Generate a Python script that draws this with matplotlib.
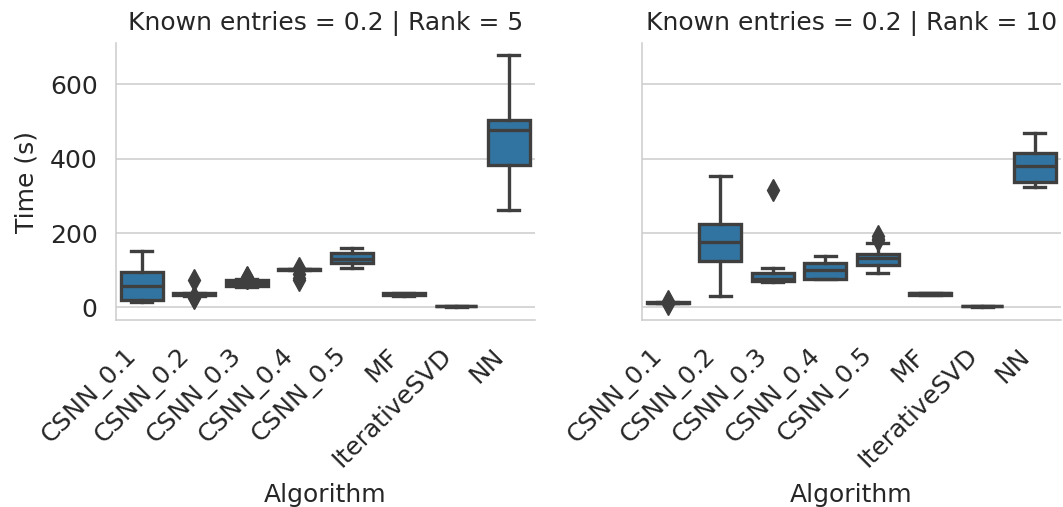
import matplotlib
matplotlib.use("Agg")
import matplotlib.pyplot as plt

algorithms = ["CSNN_0.1", "CSNN_0.2", "CSNN_0.3", "CSNN_0.4", "CSNN_0.5",
              "MF", "IterativeSVD", "NN"]

# Known entries = 0.2 | Rank = 5
r5_whislo = [15, 31, 56, 100, 107, 31, 2, 261]
r5_q1 = [20, 34, 58, 101, 118, 32, 2.5, 382]
r5_med = [58, 36, 65, 102, 129, 36, 3, 478]
r5_q3 = [94, 38, 73, 103, 145, 38, 3.5, 505]
r5_whishi = [151, 40, 76, 104, 159, 39, 4, 678]
r5_fliers = [[], [74, 28, 26], [83, 80, 78], [106, 90, 80, 74], [], [], [], []]

# Known entries = 0.2 | Rank = 10
r10_whislo = [12, 31, 67, 75, 93, 32, 2, 324]
r10_q1 = [12.5, 125, 70, 77, 114, 33, 2.5, 336]
r10_med = [13, 177, 76, 100, 133, 38, 3, 380]
r10_q3 = [14, 224, 93, 118, 143, 39, 3.5, 415]
r10_whishi = [15, 354, 106, 138, 172, 40, 4, 468]
r10_fliers = [[16, 10], [], [317], [], [193, 185, 180], [], [], []]

panels = [
    ("Known entries = 0.2 | Rank = 5", r5_whislo, r5_q1, r5_med, r5_q3, r5_whishi, r5_fliers),
    ("Known entries = 0.2 | Rank = 10", r10_whislo, r10_q1, r10_med, r10_q3, r10_whishi, r10_fliers),
]

box_color = "#3274a1"
line_color = "#3f3f3f"
grid_color = "#cccccc"
text_color = "#262626"
fs = 18

fig = plt.figure(figsize=(10.63, 5.07), dpi=100)
axes = [fig.add_axes([0.1088, 0.3688, 0.3945, 0.5464]),
        fig.add_axes([0.6037, 0.3688, 0.3945, 0.5464])]

for ax, (title, wlo, q1, med, q3, whi, fl) in zip(axes, panels):
    stats = []
    for i, name in enumerate(algorithms):
        stats.append({"label": name, "whislo": wlo[i], "q1": q1[i], "med": med[i],
                      "q3": q3[i], "whishi": whi[i], "fliers": fl[i]})
    lw = 2.4
    ax.bxp(stats, positions=range(len(algorithms)), widths=0.8, patch_artist=True,
           boxprops=dict(facecolor=box_color, edgecolor=line_color, linewidth=lw),
           medianprops=dict(color=line_color, linewidth=lw),
           whiskerprops=dict(color=line_color, linewidth=lw),
           capprops=dict(color=line_color, linewidth=lw),
           flierprops=dict(marker="d", markerfacecolor=line_color, markeredgecolor=line_color,
                           markersize=11, linestyle="none"),
           capwidths=0.4)
    ax.set_xlim(-0.5, len(algorithms) - 0.5)
    ax.set_ylim(-34, 711)
    ax.set_yticks([0, 200, 400, 600])
    ax.yaxis.grid(True, color=grid_color, linewidth=1.1)
    ax.set_axisbelow(True)
    for s in ["top", "right"]:
        ax.spines[s].set_visible(False)
    for s in ["left", "bottom"]:
        ax.spines[s].set_color(grid_color)
        ax.spines[s].set_linewidth(1.1)
    ax.tick_params(length=0, labelsize=fs, labelcolor=text_color)
    ax.tick_params(axis="x", pad=17)
    ax.tick_params(axis="y", pad=13)
    ax.set_xticks(range(len(algorithms)))
    ax.set_xticklabels(algorithms, rotation=45, ha="right")
    ax.set_xlabel("Algorithm", fontsize=fs, color=text_color, labelpad=8)
    ax.set_title(title, fontsize=fs, color=text_color, pad=9)

axes[0].set_ylabel("Time (s)", fontsize=fs, color=text_color, labelpad=8)
axes[1].tick_params(labelleft=False)

fig.savefig("out.png", dpi=100)
